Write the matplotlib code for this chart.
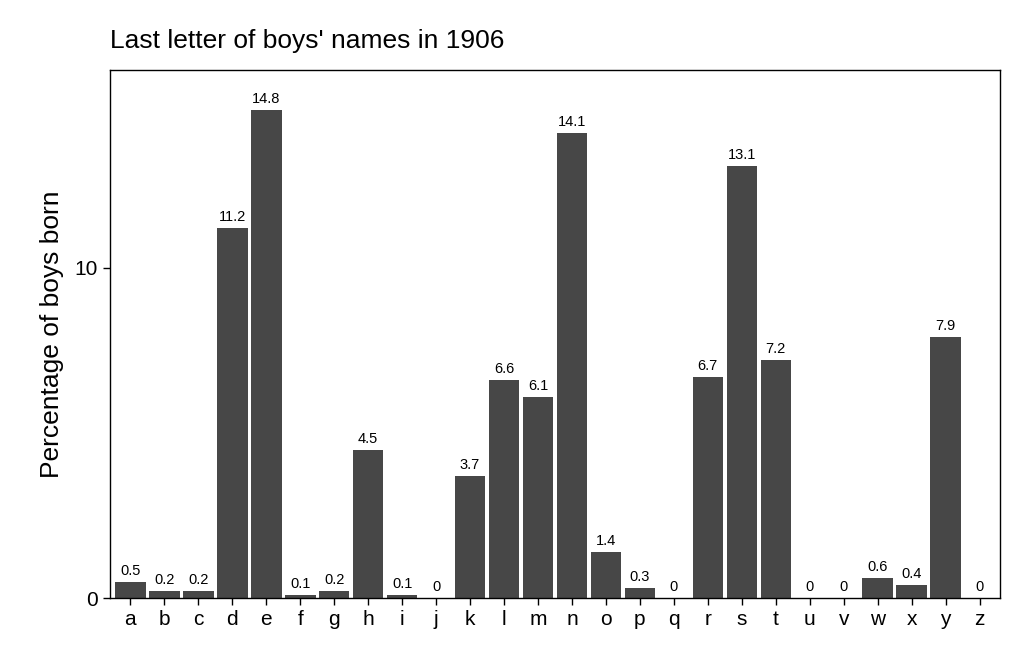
import matplotlib.pyplot as plt

letters = list("abcdefghijklmnopqrstuvwxyz")
values = [0.5, 0.2, 0.2, 11.2, 14.8, 0.1, 0.2, 4.5, 0.1, 0, 3.7, 6.6, 6.1, 14.1,
          1.4, 0.3, 0, 6.7, 13.1, 7.2, 0, 0, 0.6, 0.4, 7.9, 0]

plt.rcParams['font.family'] = ['Liberation Sans', 'DejaVu Sans']

fig = plt.figure(figsize=(10.2, 6.6), dpi=100)
ax = fig.add_axes([110 / 1020, 62 / 660, 890 / 1020, 528 / 660])

x = range(len(letters))
ax.bar(x, values, width=0.9, color='#474747')
for xi, v in zip(x, values):
    ax.text(xi, v + 0.12, f"{v:g}", ha='center', va='bottom', fontsize=10.5)

ax.set_xlim(-0.6, 25.6)
ax.set_ylim(0, 16)
ax.set_xticks(list(x))
ax.set_xticklabels(letters, fontsize=15)
ax.set_yticks([0, 10])
ax.tick_params(axis='y', labelsize=15)
ax.tick_params(length=5, width=1)
ax.set_ylabel("Percentage of boys born", fontsize=19, labelpad=8)
ax.set_title("Last letter of boys' names in 1906", fontsize=19, loc='left', pad=16)
for s in ax.spines.values():
    s.set_linewidth(1)

fig.savefig("out.png", dpi=100)
